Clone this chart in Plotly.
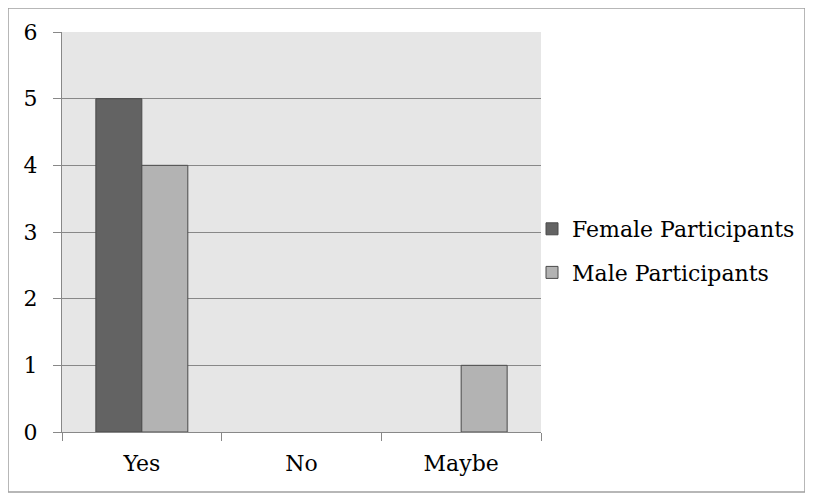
import plotly.graph_objects as go

categories = ["Yes", "No", "Maybe"]
female = [5, 0, 0]
male = [4, 0, 1]
series_names = ["Female Participants", "Male Participants"]
y_ticks = [0, 1, 2, 3, 4, 5, 6]

FONT = "DejaVu Serif"
# the page adds an 8px body margin, so the figure is 8px smaller and shifted
OFF = 8
W, H = 813 - OFF, 494 - OFF
L, T = 62 - OFF, 32 - OFF
R, B = W - (541 - OFF), H - (432 - OFF)
PW, PH = W - L - R, H - T - B

def px(x):
    return (x - OFF - L) / PW

def py(y):
    return (H - B - (y - OFF)) / PH

def edge(vals):
    return [1 if v > 0 else 0 for v in vals]

fig = go.Figure()
fig.add_trace(go.Bar(x=categories, y=female, name=series_names[0], legendgroup="f",
                     marker=dict(color="#636363", line=dict(color="#4a4a4a", width=edge(female)))))
fig.add_trace(go.Bar(x=categories, y=male, name=series_names[1], legendgroup="m",
                     marker=dict(color="#b3b3b3", line=dict(color="#4a4a4a", width=edge(male)))))

fig.update_layout(
    width=W, height=H,
    margin=dict(l=L, r=R, t=T, b=B),
    paper_bgcolor="white",
    plot_bgcolor="#e6e6e6",
    barmode="group",
    bargap=0.424,
    bargroupgap=0,
    font=dict(family=FONT, size=20, color="black"),
    showlegend=True,
    legend=dict(x=px(532), y=py(208), xanchor="left", yanchor="top",
                font=dict(family=FONT, size=22, color="black"),
                tracegroupgap=12, itemwidth=30, bgcolor="rgba(0,0,0,0)",
                traceorder="grouped"),
    xaxis=dict(showgrid=False, showline=True, linecolor="#888888", linewidth=1,
               ticks="outside", ticklen=8, tickcolor="#888888", tickson="boundaries",
               tickfont=dict(family=FONT, size=22), ticklabelstandoff=12),
    yaxis=dict(range=[0, 6], tickvals=y_ticks, showgrid=True, gridcolor="#888888", gridwidth=1,
               showline=True, linecolor="#888888", linewidth=1, zeroline=False,
               ticks="outside", ticklen=8, tickcolor="#888888",
               tickfont=dict(family=FONT, size=22), ticklabelstandoff=11),
    shapes=[dict(type="rect", xref="paper", yref="paper",
                 x0=px(8), x1=px(805), y0=py(492), y1=py(8),
                 line=dict(color="#a0a0a0", width=1.5), fillcolor="rgba(0,0,0,0)", layer="below")],
)

fig.write_html("out.html")
